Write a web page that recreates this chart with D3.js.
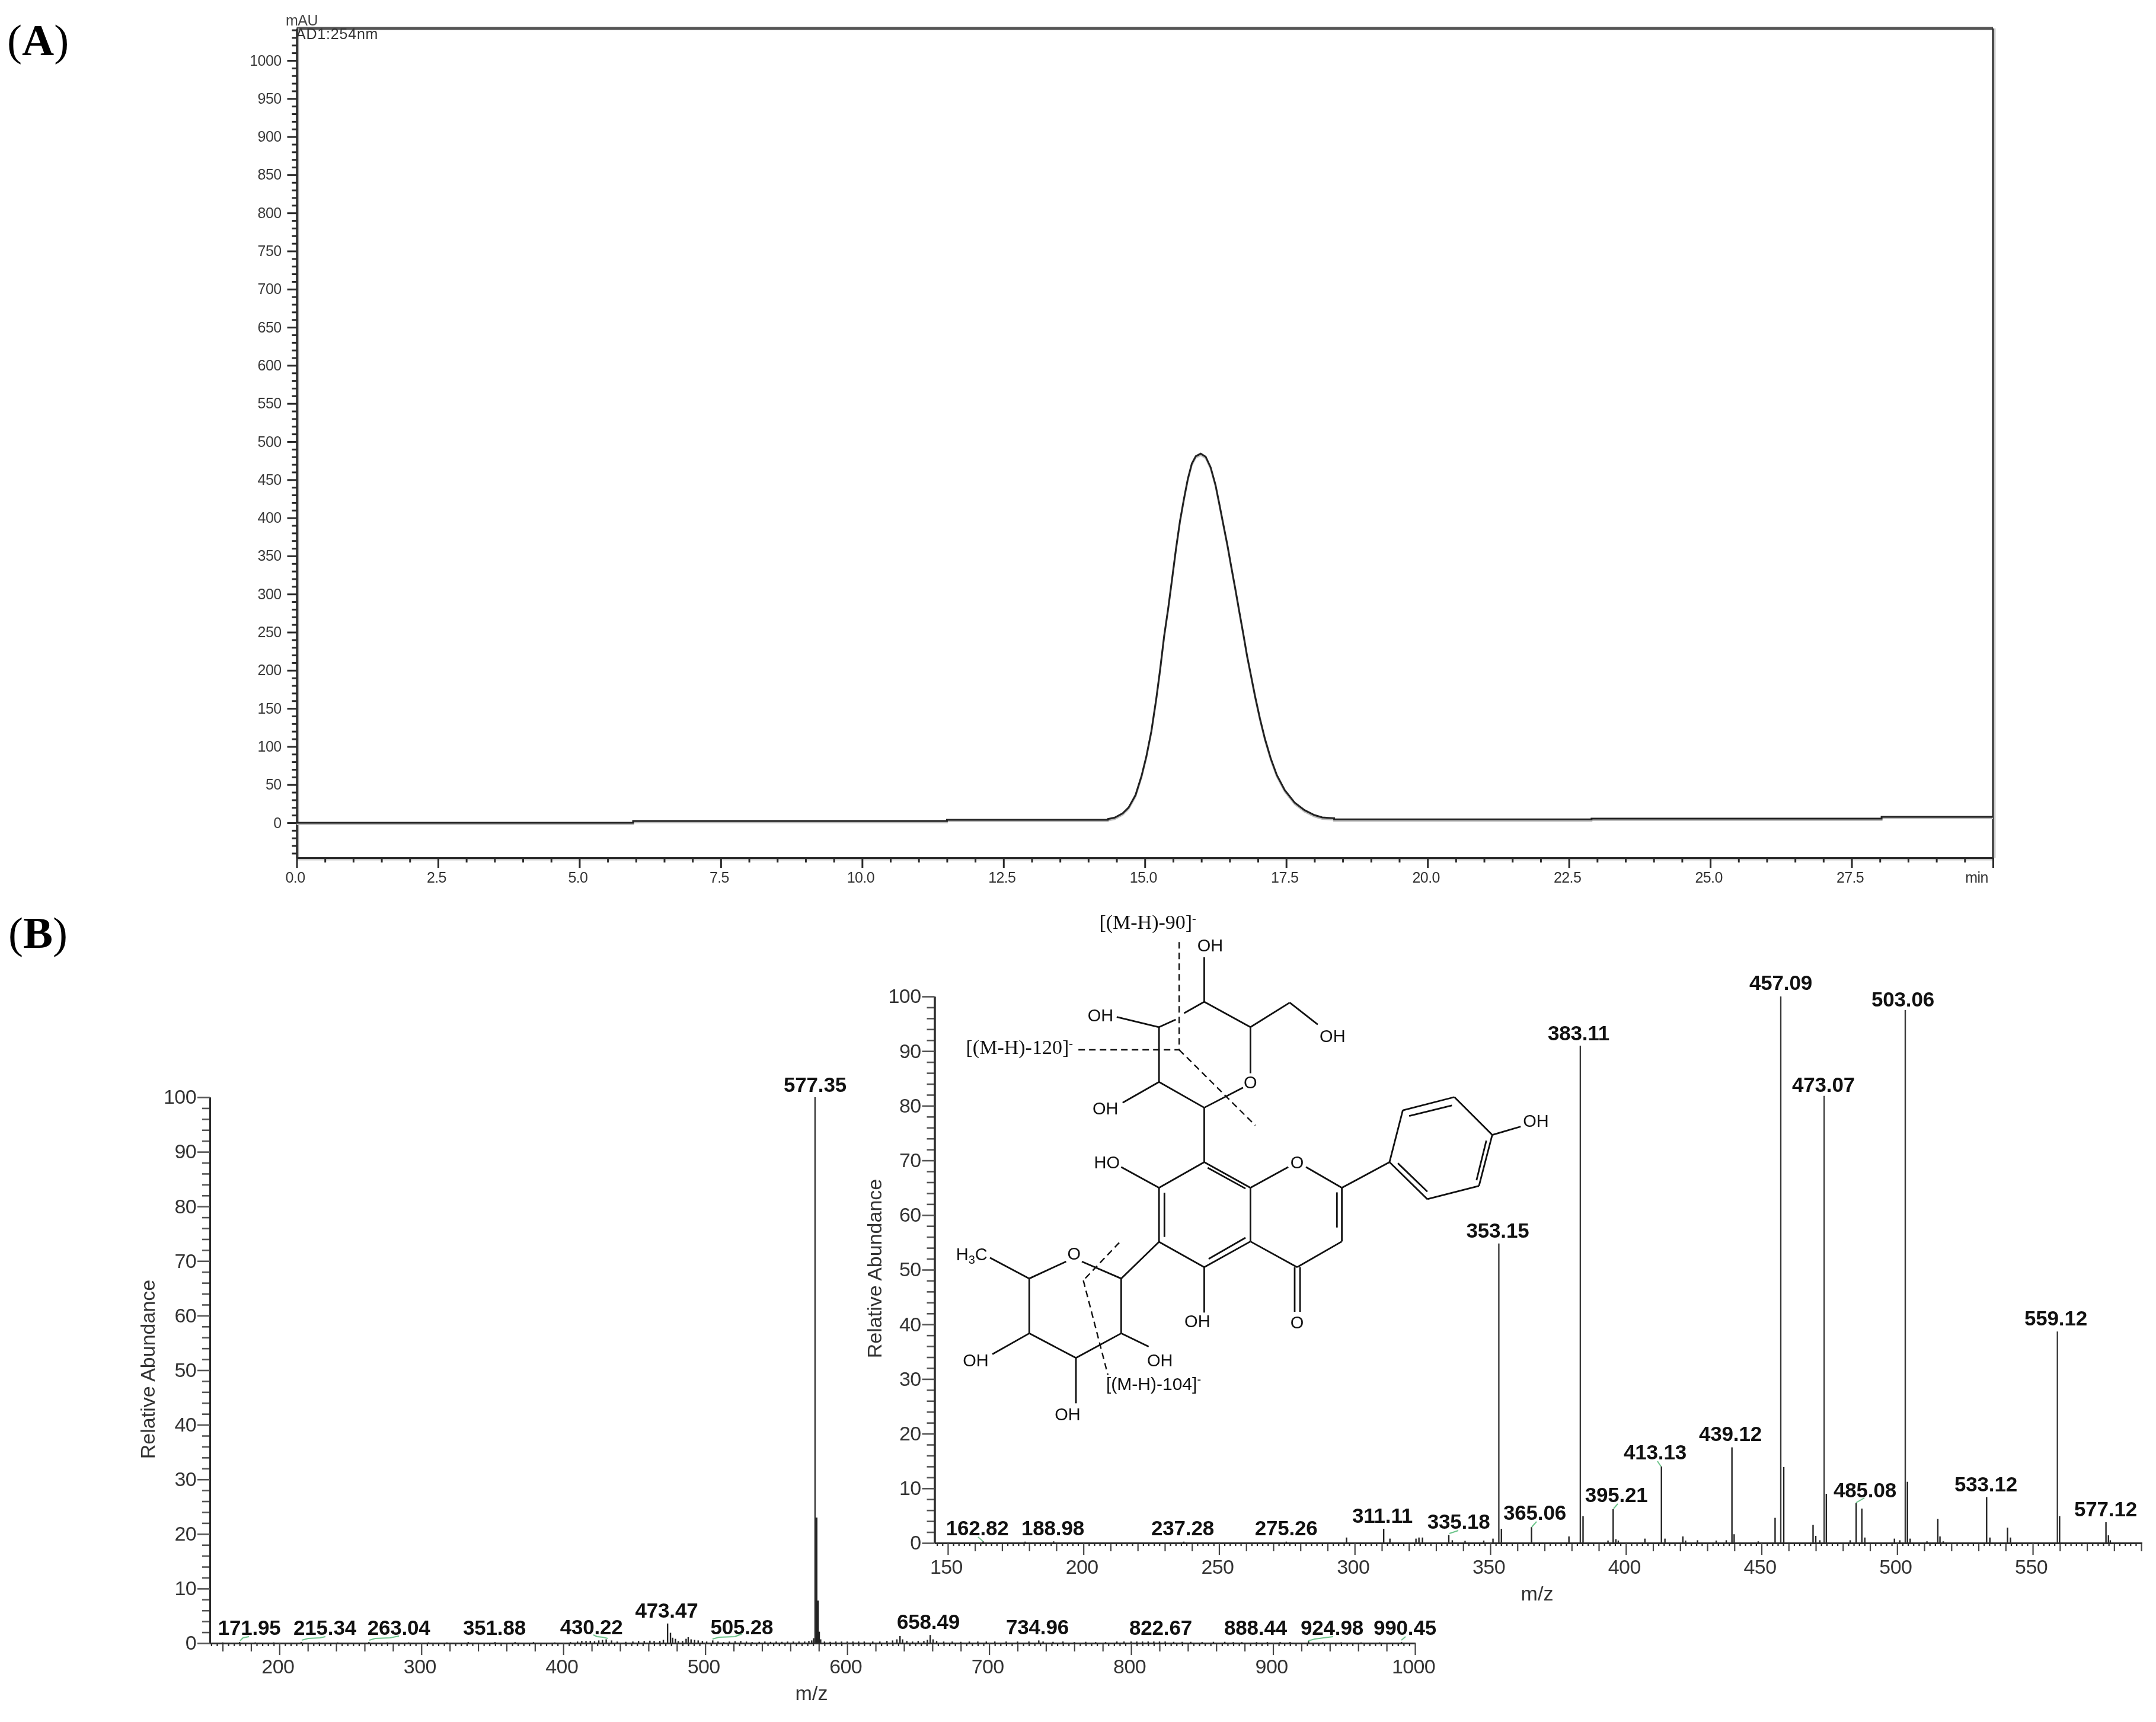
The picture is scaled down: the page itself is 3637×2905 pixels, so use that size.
<!DOCTYPE html>
<html><head><meta charset="utf-8">
<style>
html,body{margin:0;padding:0;background:#fff}
svg{display:block;filter:blur(0.6px)}
text{font-family:"Liberation Sans",Arial,sans-serif}
</style>
<script src="https://cdn.jsdelivr.net/npm/d3@7"></script>
</head><body><svg id="c" width="3637" height="2905"></svg>
<script>
/* ---------- panel A: chromatogram (retention time, mAU) ---------- */
const chromTime=[0,5.95,5.95,11.5,11.5,14.345,14.345,14.468,14.608,14.712,14.835,14.94,15.027,15.115,15.202,15.272,15.341,15.412,15.482,15.551,15.621,15.692,15.761,15.831,15.901,15.988,16.076,16.164,16.25,16.321,16.39,16.46,16.531,16.6,16.67,16.741,16.81,16.88,16.95,17.037,17.124,17.229,17.334,17.475,17.649,17.824,17.999,18.138,18.348,18.348,22.9,22.9,28.03,28.03,30];
const chromAbs=[0,0,2.3,2.3,3.8,3.8,4.8,6.8,12.4,19.9,36.3,61,87.2,120,162.7,202,244.7,280.8,320.1,359.5,395.6,425.1,451.4,471.1,480.9,484.2,480.2,466.2,443.2,417,390.7,364.5,334.9,307,277.5,248,218.4,192.2,165.9,136.4,110.2,83.9,62.6,42.9,26.5,16.6,10.1,7,6,4.4,4.4,5.4,5.4,7.7,7.7];
const chromYLabels=[0,50,100,150,200,250,300,350,400,450,500,550,600,650,700,750,800,850,900,950,1000];
const chromXLabels=[0,2.5,5,7.5,10,12.5,15,17.5,20,22.5,25,27.5,30];

/* ---------- panel B: full MS2 spectrum [m/z, relative abundance] ---------- */
const fullPeaks=[[160,.15],[171.95,.2],[183,.15],[196,.15],[215.34,.2],[228,.15],[241,.15],[263.04,.2],[276,.15],[291,.15],[305,.15],[318,.15],[333,.2],[351.88,.2],[366,.2],[379,.2],[394,.15],[405,.2],[410,.3],[413,.4],[416,.4],[419,.4],[422,.35],[425,.5],[427.6,.6],[430.22,.7],[434,.5],[438,.3],[444,.25],[449,.3],[453,.4],[457,.4],[461,.45],[464,.4],[468,.4],[470.5,.6],[473.47,3.6],[475.5,1.9],[477,1],[479,.8],[481,.4],[484,.4],[486.5,.8],[488,1.1],[490,.7],[492.5,.6],[495,.5],[498,.4],[501,.3],[505.28,.5],[509,.3],[513,.2],[517,.3],[521,.35],[525,.4],[529,.3],[533,.2],[538,.25],[542,.3],[546,.25],[550,.3],[554,.25],[558,.3],[562,.3],[566,.3],[570,.3],[573,.4],[575,.5],[576.4,.9],[577.35,100],[578.3,23],[579.3,7.8],[580.3,2.1],[581.3,.7],[584,.3],[588,.25],[592,.3],[596,.3],[600,.3],[604,.3],[608,.3],[612,.3],[618,.3],[623,.3],[628,.4],[632,.5],[635,.7],[637.2,1.3],[639,.7],[642,.4],[646,.3],[650,.4],[654,.4],[656.5,.6],[658.49,1.5],[660.5,.7],[663,.4],[668,.3],[674,.3],[680,.25],[686,.3],[692,.3],[698,.3],[704,.3],[712,.3],[720,.3],[728,.3],[734.96,.5],[738,.3],[745,.25],[752,.3],[760,.2],[768,.25],[775,.2],[782,.2],[790,.3],[795,.3],[800,.3],[804,.3],[808,.3],[812,.3],[816,.3],[820,.3],[824,.3],[830,.25],[836,.25],[842,.25],[850,.2],[858,.25],[866,.25],[872,.2],[878,.2],[888.44,.2],[896,.2],[905,.2],[912,.2],[924.98,.35],[935,.15],[948,.15],[962,.15],[975,.15],[990.45,.2]];
const fullLabels=["171.95","215.34","263.04","351.88","430.22","473.47","505.28","577.35","658.49","734.96","822.67","888.44","924.98","990.45"];
const fullXLabels=[200,300,400,500,600,700,800,900,1000];
const abundanceLabels=[0,10,20,30,40,50,60,70,80,90,100];

/* ---------- panel B inset: MS3 spectrum [m/z, relative abundance] ---------- */
const insetPeaks=[[163,.3],[178.5,.25],[189,.3],[237,.25],[274.8,.25],[297,1],[310.7,2.6],[313,.8],[322.6,.8],[323.7,1],[325,1],[334.7,1.45],[336,.5],[340.7,.4],[347.6,.45],[351,.8],[353.15,54.8],[354.1,2.6],[365.2,2.9],[379,1.2],[383.2,91],[384.2,4.9],[393.4,.45],[395.3,6.2],[396.3,.7],[397.2,.45],[407,.8],[413.1,14],[414.4,.8],[421,1.2],[422,.45],[426.4,.5],[433.3,.45],[437,.5],[439.1,17.5],[439.9,1.6],[448.8,.3],[455,4.6],[457.1,100],[458.2,13.9],[469,3.3],[470,1.3],[471.5,.5],[473.1,81.8],[473.9,9],[482.7,.5],[484.9,7.3],[487,6.3],[488.1,1],[499,.8],[501,.5],[503,97.5],[503.8,11.2],[504.8,.8],[511,.3],[515,4.4],[515.8,1.2],[517,.3],[533,8.4],[534.2,1],[540.7,2.8],[541.8,1],[559.1,38.7],[559.9,4.9],[577,3.8],[577.9,1.4],[578.6,.5]];
const insetLabels=["162.82","188.98","237.28","275.26","311.11","335.18","353.15","365.06","383.11","395.21","413.13","439.12","457.09","473.07","485.08","503.06","533.12","559.12","577.12"];
const insetXLabels=[150,200,250,300,350,400,450,500,550];

/* ---------- layout only (page pixels) ---------- */
const fullLabelPos=[[420.6,2758],[548,2758],[672.6,2758],[834,2758],[997.7,2757],[1124.5,2729],[1251.4,2757],[1375,1842],[1566,2748],[1750,2757],[1958,2758],[2118,2758],[2247,2758],[2370,2758]];
const insetLabelPos=[[1648.6,2590],[1776,2590],[1995,2590],[2169.6,2590],[2332,2569],[2460.7,2579],[2526.5,2088],[2589,2564],[2663,1755],[2726.6,2534],[2792,2462],[2919,2431],[3004,1670],[3076,1842],[3146,2526],[3210,1698],[3350,2516],[3468,2236],[3552,2558]];
const connectors=[
 [[405,2768],[410,2763],[420,2761]],[[509,2767],[520,2764],[540,2763],[549,2761]],[[623,2767],[633,2764],[658,2763],[673,2760]],
 [[1001,2758],[1007,2761],[1017,2762],[1025,2764]],[[1202,2765],[1213,2762],[1240,2761],[1252,2756]],
 [[2207,2768],[2218,2765],[2233,2763],[2249,2761]],[[2364,2767],[2371,2761]],
 [[1650,2593],[1658,2600]],[[2445,2587],[2460,2582]],[[2584,2576],[2592,2567]],[[2722,2545],[2729,2537]],[[2796,2465],[2802,2474]],[[3131,2535],[3145,2527]]];

const svg=d3.select("#c");
const INK="#2a2a2a";

/* ---------- helpers ---------- */
function drawAxis(parent,gen,tx,ty,o){
  const g=parent.append("g").attr("transform",`translate(${tx},${ty})`).call(gen);
  g.selectAll("path.domain").attr("stroke",o.domain===false?"none":INK).attr("stroke-width",o.dw||3);
  g.selectAll(".tick line").attr("stroke",o.tickColor||INK).attr("stroke-width",o.tw||3);
  g.selectAll(".tick text").attr("fill",o.color||"#333").attr("font-size",o.fs)
   .attr("font-family",'"Liberation Sans",Arial,sans-serif').style("letter-spacing",o.ls||"0");
  return g;
}
const exclude=(arr,major)=>arr.filter(v=>!major.some(m=>Math.abs(m-v)<1e-6));

/* ---------- Panel letters ---------- */
function panelLetter(t,x,y){
  const e=svg.append("text").attr("x",x).attr("y",y).attr("font-size",75).attr("fill","#000")
   .style("font-family",'"Liberation Serif","Times New Roman",serif');
  e.append("tspan").text("(");
  e.append("tspan").attr("font-weight","bold").text(t);
  e.append("tspan").text(")");
}
panelLetter("A",12,93);
panelLetter("B",14,1599);

/* ---------- Panel A ---------- */
const ax=d3.scaleLinear().domain([0,30]).range([500.5,3362]);
const ay=d3.scaleLinear().domain([0,1000]).range([1388,102]);
const aBottom=1447, aTop=48;
const gA=svg.append("g");
gA.append("line").attr("x1",ax(0)).attr("x2",ax(30)).attr("y1",aTop).attr("y2",aTop).attr("stroke","#555").attr("stroke-width",5);
gA.append("line").attr("x1",ax(30)+3).attr("x2",ax(30)+3).attr("y1",aTop).attr("y2",aBottom).attr("stroke","#ccc").attr("stroke-width",3);
gA.append("line").attr("x1",ax(30)).attr("x2",ax(30)).attr("y1",aTop).attr("y2",aBottom).attr("stroke",INK).attr("stroke-width",3);
gA.append("line").attr("x1",ax(0)).attr("x2",ax(30)).attr("y1",aBottom+3).attr("y2",aBottom+3).attr("stroke","#ccc").attr("stroke-width",3);
gA.append("line").attr("x1",ax(0)+3).attr("x2",ax(0)+3).attr("y1",aTop).attr("y2",aBottom).attr("stroke","#aaa").attr("stroke-width",2);

const ayMajor=chromYLabels;
const ayMinor=exclude(d3.range(-40,1041,10),ayMajor);
const axMajor=chromXLabels;
const axMinor=exclude(d3.range(0,30,0.5),axMajor);
const aYDomain=d3.scaleLinear().domain([ay.invert(aBottom),ay.invert(aTop)]).range([aBottom,aTop]);
drawAxis(gA,d3.axisLeft(aYDomain).tickValues(ayMinor).tickSize(8).tickSizeOuter(0).tickFormat(""),ax(0),0,{fs:25});
drawAxis(gA,d3.axisLeft(aYDomain).tickValues(ayMajor).tickSize(16).tickSizeOuter(0).tickFormat(d3.format("d")).tickPadding(10),ax(0),0,{fs:25,ls:"-0.6px",color:"#3a3a3a"});
drawAxis(gA,d3.axisBottom(ax).tickValues(axMinor).tickSize(8).tickSizeOuter(0).tickFormat(""),0,aBottom,{fs:25});
const gax=drawAxis(gA,d3.axisBottom(ax).tickValues(axMajor).tickSize(17).tickSizeOuter(0).tickFormat(d=>d===30?"min":d3.format(".1f")(d)),0,aBottom,{fs:25,ls:"-0.6px",color:"#333"});
gax.selectAll(".tick text").attr("y",42).attr("dy",0).attr("dx",d=>d===30?-28:-3);
const chromData=chromTime.map((t,i)=>[t,chromAbs[i]]);
const trace=d3.line().x(d=>ax(d[0])).y(d=>ay(d[1]));
gA.append("path").datum(chromData).attr("d",trace).attr("fill","none").attr("stroke","#bdbdbd").attr("stroke-width",3).attr("transform","translate(0,2.5)");
gA.append("path").datum(chromData).attr("d",trace).attr("fill","none").attr("stroke","#222").attr("stroke-width",3);
gA.append("text").attr("x",482).attr("y",43).attr("font-size",25).attr("fill","#444").style("letter-spacing","-0.5px").text("mAU");
gA.append("text").attr("x",499).attr("y",66).attr("font-size",25).attr("fill","#333").style("letter-spacing","0.8px").text("AD1:254nm");

/* ---------- spectrum drawing ---------- */
function spectrum(o){
  const g=svg.append("g");
  const x=o.x,y=o.y,base=y(0);
  g.append("g").selectAll("line").data(o.peaks).join("line")
    .attr("x1",d=>x(d[0])).attr("x2",d=>x(d[0])).attr("y1",base).attr("y2",d=>y(d[1]))
    .attr("stroke",d=>d[1]>30?"#3a3a3a":"#222").attr("stroke-width",d=>o.thick&&d[1]>5?(d[1]>=100?2.5:3.5):2.4);
  const [lo,hi]=x.domain();
  const all=d3.range(Math.ceil(lo/o.fine)*o.fine,hi+0.01,o.fine);
  const mids=exclude(d3.range(Math.ceil(lo/o.mid)*o.mid,hi+0.01,o.mid),o.xMajor);
  const minors=exclude(exclude(all,o.xMajor),mids);
  drawAxis(g,d3.axisBottom(x).tickValues(minors).tickSize(5).tickSizeOuter(0).tickFormat(""),0,base,{fs:34,tw:2.2});
  drawAxis(g,d3.axisBottom(x).tickValues(mids).tickSize(14).tickSizeOuter(0).tickFormat(""),0,base,{fs:34,tw:2.2,tickColor:"#444"});
  const gx=drawAxis(g,d3.axisBottom(x).tickValues(o.xMajor).tickSize(20).tickSizeOuter(0).tickFormat(d3.format("d")),0,base,{fs:34,tw:2.2,tickColor:"#444",ls:"-0.6px"});
  gx.selectAll(".tick text").attr("y",o.xLabelY).attr("dy",0).attr("dx",-3);
  const yMinors=exclude(d3.range(0,100.01,2),abundanceLabels);
  drawAxis(g,d3.axisLeft(y).tickValues(yMinors).tickSize(13).tickSizeOuter(0).tickFormat(""),x.range()[0],0,{fs:34,tw:2.6,tickColor:"#555"});
  drawAxis(g,d3.axisLeft(y).tickValues(abundanceLabels).tickSize(21).tickSizeOuter(0).tickFormat(d3.format("d")).tickPadding(2),x.range()[0],0,{fs:34,tw:2.6,tickColor:"#555",ls:"-0.6px"});
  g.append("text").attr("transform",`translate(${o.ylab[0]},${o.ylab[1]}) rotate(-90)`).attr("text-anchor","middle").attr("font-size",34).attr("fill","#333").text("Relative Abundance");
  g.append("text").attr("x",o.xlab[0]).attr("y",o.xlab[1]).attr("text-anchor","middle").attr("font-size",34).attr("fill","#333").text("m/z");
  g.append("g").selectAll("text").data(o.labels).join("text")
    .attr("x",(d,i)=>o.labelPos[i][0]).attr("y",(d,i)=>o.labelPos[i][1])
    .attr("text-anchor","middle").attr("font-size",35).attr("font-weight","bold").attr("fill","#111").style("letter-spacing","-0.2px").text(d=>d);
}
spectrum({x:d3.scaleLinear().domain([151,1000]).range([354,2387]),y:d3.scaleLinear().domain([0,100]).range([2772,1851]),
  peaks:fullPeaks,labels:fullLabels,labelPos:fullLabelPos,xMajor:fullXLabels,mid:20,fine:4,xLabelY:51,ylab:[261,2310],xlab:[1369,2868],thick:true});
spectrum({x:d3.scaleLinear().domain([145.1,590.2]).range([1576.5,3613]),y:d3.scaleLinear().domain([0,100]).range([2603,1681]),
  peaks:insetPeaks,labels:insetLabels,labelPos:insetLabelPos,xMajor:insetXLabels,mid:10,fine:2,xLabelY:52,ylab:[1487,2140],xlab:[2593,2700]});
svg.append("g").selectAll("path").data(connectors).join("path").attr("d",d3.line()).attr("fill","none").attr("stroke","#6cc48a").attr("stroke-width",2);

/* ---------- Chemical structure (annotation artwork, placed via two scales) ---------- */
const sx=d3.scaleLinear().domain([0,1568]).range([1500,2800]);
const sy=d3.scaleLinear().domain([0,1568]).range([1500,2500]);
const bonds=[
 [641,298,735,365],[735,365,735,487],[720,525,641,578],[641,578,549,510],[549,510,549,365],[549,365,583,345],[600,328,641,298],
 [641,298,641,180],[735,365,815,300],[815,300,872,358],[549,365,463,338],[549,510,475,565],[641,578,641,722],
 [641,722,735,790],[735,790,735,932],[735,932,641,1000],[641,1000,549,933],[549,933,549,790],[549,790,641,722],
 [648,737,725,792],[725,922,650,978],[560,920,560,803],
 [735,790,812,735],[848,735,921,790],[921,790,921,932],[911,895,911,802],[921,932,830,1000],[830,1000,735,932],
 [825,1000,825,1118],[836,1000,836,1118],[641,1000,641,1120],[549,790,472,735],
 [921,790,1018,722],[1018,722,1045,585],[1045,585,1150,550],[1150,550,1227,650],[1227,650,1200,785],[1200,785,1095,820],[1095,820,1018,722],
 [1058,600,1145,572],[1215,665,1195,770],[1095,800,1035,725],[1227,650,1285,628],
 [549,933,472,1030],[472,1030,472,1175],[472,1175,380,1240],[380,1240,285,1175],[285,1175,285,1030],[285,1030,360,985],[392,985,472,1030],
 [285,1030,205,975],[285,1175,210,1230],[472,1175,528,1210],[380,1240,380,1360]];
const dashes=[[590,140,590,425],[385,425,590,425],[590,425,745,625],[468,935,395,1035],[395,1035,445,1285]];
const atoms=[["OH",653,148],["O",735,510],["OH",902,388],["OH",430,333],["OH",440,580],["O",830,722],["OH",1316,613],["HO",443,722],["OH",627,1143],["O",830,1145],["O",376,963],["OH",176,1245],["OH",551,1245],["OH",363,1388]];
const gS=svg.append("g");
gS.selectAll("line.b").data(bonds).join("line").attr("class","b")
  .attr("x1",d=>sx(d[0])).attr("y1",d=>sy(d[1])).attr("x2",d=>sx(d[2])).attr("y2",d=>sy(d[3])).attr("stroke","#111").attr("stroke-width",2.8);
gS.selectAll("line.d").data(dashes).join("line").attr("class","d")
  .attr("x1",d=>sx(d[0])).attr("y1",d=>sy(d[1])).attr("x2",d=>sx(d[2])).attr("y2",d=>sy(d[3])).attr("stroke","#111").attr("stroke-width",2.4).attr("stroke-dasharray","11,7");
gS.selectAll("text.a").data(atoms).join("text").attr("class","a")
  .attr("x",d=>sx(d[1])).attr("y",d=>sy(d[2])+10.5).attr("text-anchor","middle").attr("font-size",29).attr("fill","#111").text(d=>d[0]);
const h3c=gS.append("text").attr("x",sx(168)).attr("y",sy(965)+10.5).attr("text-anchor","middle").attr("font-size",29).attr("fill","#111");
h3c.append("tspan").text("H");
h3c.append("tspan").attr("font-size",20).attr("dy",6).text("3");
h3c.append("tspan").attr("dy",-6).text("C");
function ion(t,x,y,serif){
  const e=gS.append("text").attr("x",sx(x)).attr("y",sy(y)+10).attr("text-anchor","middle").attr("font-size",serif?34:30).attr("fill","#111");
  if(serif)e.style("font-family",'"Liberation Serif","Times New Roman",serif');
  e.append("tspan").text(t);
  e.append("tspan").attr("font-size",20).attr("dy",-11).text("-");
}
ion("[(M-H)-90]",526,90,true);
ion("[(M-H)-120]",265,420,true);
ion("[(M-H)-104]",538,1310,false);
</script></body></html>
